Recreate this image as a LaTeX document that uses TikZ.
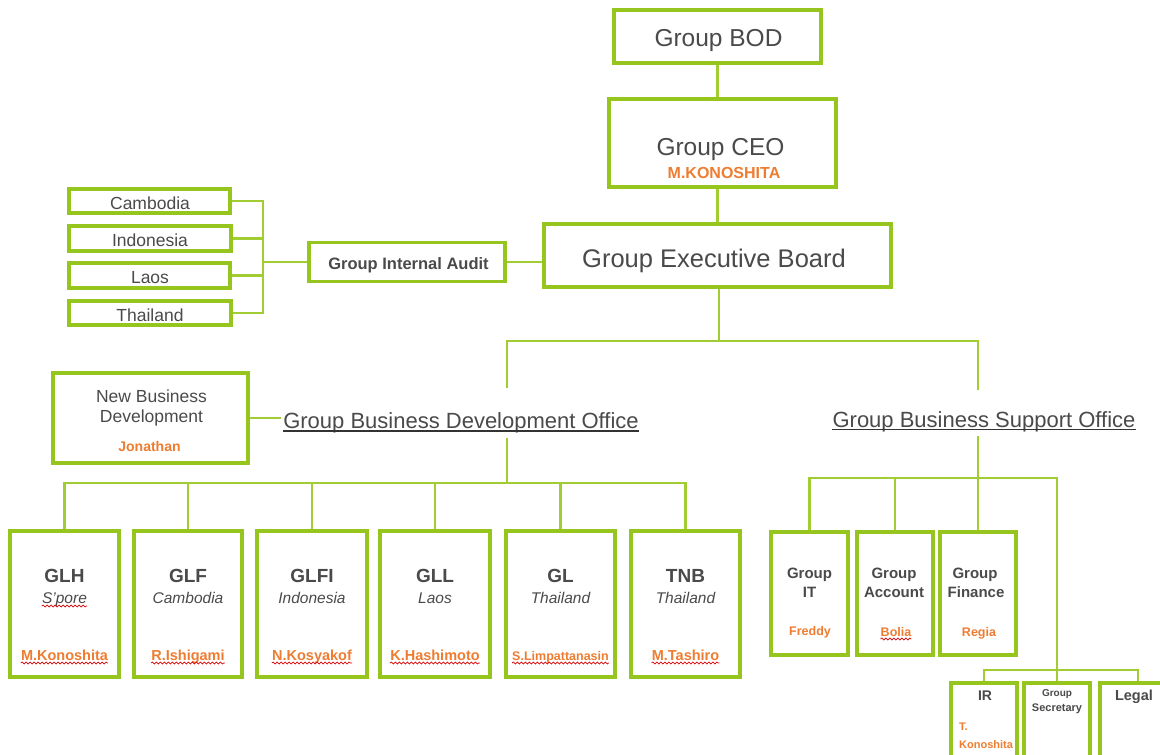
\documentclass[tikz,border=0pt]{standalone}
\usepackage{fontspec}
\setmainfont{Liberation Sans}
\usetikzlibrary{decorations.pathmorphing}
\definecolor{lgreen}{HTML}{96C51E}
\definecolor{cgreen}{HTML}{A2CD32}
\definecolor{dgray}{HTML}{4A4A4A}
\definecolor{orng}{HTML}{EE7D31}
\newcommand{\fsz}[1]{\fontsize{#1}{#1}\selectfont}
\begin{document}
\begin{tikzpicture}[x=1pt,y=-1pt,
 box/.style={draw=lgreen,line width=3.2pt,rectangle,inner sep=0pt,fill=white},
 conn/.style={draw=cgreen,line width=2.1pt},
 lbl/.style={anchor=base,inner sep=0pt,text=dgray},
 nm/.style={anchor=base,inner sep=0pt,text=orng},
 wavy/.style={draw=red!85!black,line width=0.7pt,decorate,decoration={snake,segment length=4pt,amplitude=1pt}},
 uline/.style={draw=black!80,line width=1.2pt}]
\clip (0,0) rectangle (1160,755);
\fill[white] (0,0) rectangle (1160,755);

% top chain
\node[box,minimum width=207pt,minimum height=53pt] (bod) at (717.5,36.5) {};
\node[lbl,font=\fsz{24.5}] (bodt) at (718.5,46) {Group BOD};
\node[box,minimum width=227pt,minimum height=88pt] (ceo) at (722.5,143) {};
\node[lbl,font=\fsz{24.5}] (ceot) at (720.5,155) {Group CEO};
\node[nm,font=\bfseries\fsz{16}] (ceon) at (724,178) {M.KONOSHITA};
\node[box,minimum width=347pt,minimum height=63pt] (geb) at (717.5,255.5) {};
\node[lbl,font=\fsz{25.5}] (gebt) at (714,267) {Group Executive Board};

% audit
\node[box,minimum width=196pt,minimum height=39pt] (gia) at (407,262) {};
\node[lbl,font=\bfseries\fsz{16.5}] (giat) at (408.5,269) {Group Internal Audit};
\node[box,minimum width=161pt,minimum height=24pt] (cam) at (149.5,201) {};
\node[lbl,font=\fsz{17.5}] (camt) at (150,209) {Cambodia};
\node[box,minimum width=162pt,minimum height=25pt] (ind) at (150,238.5) {};
\node[lbl,font=\fsz{17.5}] (indt) at (150,246) {Indonesia};
\node[box,minimum width=161pt,minimum height=25pt] (lao) at (149.5,275.5) {};
\node[lbl,font=\fsz{17.5}] (laot) at (150,283) {Laos};
\node[box,minimum width=162pt,minimum height=24pt] (tha) at (150,313) {};
\node[lbl,font=\fsz{17.5}] (thav) at (150,321) {Thailand};
\coordinate (brk) at (263,262);

% offices
\node[lbl,font=\fsz{22}] (gbdo) at (461,428) {Group Business Development Office};
\draw[uline] ([yshift=-3pt]gbdo.base west) -- ([yshift=-3pt]gbdo.base east);
\node[lbl,font=\fsz{22}] (gbso) at (984,427) {Group Business Support Office};
\draw[uline] ([yshift=-2.5pt]gbso.base west) -- ([yshift=-2.5pt]gbso.base east);

\node[box,minimum width=195pt,minimum height=90pt] (nbd) at (150.5,418) {};
\node[lbl,font=\fsz{17.5}] (nbd1) at (151.5,402) {New Business};
\node[lbl,font=\fsz{17.5}] (nbd2) at (151.5,422) {Development};
\node[nm,font=\bfseries\fsz{14}] (nbdn) at (149.5,451) {Jonathan};

\coordinate (hub) at (719,341);
\coordinate (dtop) at (507,388);
\coordinate (dbot) at (507,438);
\coordinate (dbus) at (507,483);
\coordinate (stop) at (978,390);
\coordinate (sbot) at (978,436);
\coordinate (sbus) at (978,478);
\coordinate (ibus) at (1057,670);

% business units
\foreach \n/\cx/\w/\t/\c/\p/\s in {glh/64.5/109/GLH/S’pore/M.Konoshita/14.5,
  glf/188/108/GLF/Cambodia/R.Ishigami/14.5,
  glfi/312/110/GLFI/Indonesia/N.Kosyakof/14.5,
  gll/435/110/GLL/Laos/K.Hashimoto/14.5,
  gl/560.5/109/GL/Thailand/S.Limpattanasin/12.5,
  tnb/685.5/109/TNB/Thailand/M.Tashiro/14.5}{
 \node[box,minimum width=\w pt,minimum height=146pt] (\n) at (\cx,604) {};
 \node[lbl,font=\bfseries\fsz{19}] (\n-t) at (\cx,582) {\t};
 \node[lbl,font=\itshape\fsz{15.5}] (\n-c) at (\cx,603) {\c};
 \node[nm,font=\bfseries\fsz{\s}] (\n-p) at (\cx,660) {\p};
 \draw[wavy] ([yshift=-3pt]\n-p.base west) -- ([yshift=-3pt]\n-p.base east);
}
\draw[wavy] ([yshift=-3pt]glh-c.base west) -- ([yshift=-3pt]glh-c.base east);

% support units
\node[box,minimum width=77pt,minimum height=123pt] (git) at (809.5,593.5) {};
\node[lbl,font=\bfseries\fsz{15}] (git1) at (809.5,578) {Group};
\node[lbl,font=\bfseries\fsz{15}] (git2) at (809.5,597) {IT};
\node[nm,font=\bfseries\fsz{12.5}] (gitn) at (810,635) {Freddy};
\node[box,minimum width=76pt,minimum height=123pt] (gac) at (895,593.5) {};
\node[lbl,font=\bfseries\fsz{15}] (gac1) at (894,578) {Group};
\node[lbl,font=\bfseries\fsz{15}] (gac2) at (894,597) {Account};
\node[nm,font=\bfseries\fsz{12.5}] (gacn) at (896,636) {Bolia};
\draw[wavy] ([yshift=-3pt]gacn.base west) -- ([yshift=-3pt]gacn.base east);
\node[box,minimum width=76pt,minimum height=123pt] (gfi) at (978,593.5) {};
\node[lbl,font=\bfseries\fsz{15}] (gfi1) at (975,578) {Group};
\node[lbl,font=\bfseries\fsz{15}] (gfi2) at (976,597) {Finance};
\node[nm,font=\bfseries\fsz{12.5}] (gfin) at (979,636) {Regia};

\node[box,minimum width=66pt,minimum height=90pt] (ir) at (984,728) {};
\node[lbl,font=\bfseries\fsz{14}] (irt) at (985,700) {IR};
\node[nm,font=\bfseries\fsz{11},anchor=base west] (irn1) at (959,730) {T.};
\node[nm,font=\bfseries\fsz{11},anchor=base west] (irn2) at (959,748) {Konoshita};
\node[box,minimum width=66pt,minimum height=90pt] (gsec) at (1057,728) {};
\node[lbl,font=\bfseries\fsz{10}] (gsec1) at (1057,696) {Group};
\node[lbl,font=\bfseries\fsz{11}] (gsec2) at (1057,711) {Secretary};
\node[box,minimum width=76pt,minimum height=90pt] (legal) at (1138,728) {};
\node[lbl,font=\bfseries\fsz{14.5}] (legalt) at (1134,700) {Legal};

% connectors
\draw[conn] (bod.south) -- (bod.south |- ceo.north);
\draw[conn] (ceo.south -| bod.south) -- (bod.south |- geb.north);
\draw[conn] (geb.south -| hub) -- (hub);
\draw[conn] (dtop) |- (hub) -| (stop);
\foreach \b in {cam,ind,lao,tha} \draw[conn] (\b.east) -| (brk);
\draw[conn] (brk) -- (brk -| gia.west);
\draw[conn] (gia.east) -- (gia.east -| geb.west);
\draw[conn] (nbd.east) -- ([xshift=-2pt]nbd.east -| gbdo.west);
\draw[conn] (dbot) -- (dbus);
\draw[conn] (glh.north) |- (dbus) -| (tnb.north);
\foreach \b in {glf,glfi,gll,gl} \draw[conn] (\b.north) -- (\b.north |- dbus);
\draw[conn] (sbot) -- (sbus);
\draw[conn] (git.north) |- (sbus) -| (gsec.north);
\draw[conn] (gac.north) -- (gac.north |- sbus);
\draw[conn] (gfi.north) -- (sbus);
\draw[conn] (ir.north) |- (ibus) -| (legal.north);
\end{tikzpicture}
\end{document}
